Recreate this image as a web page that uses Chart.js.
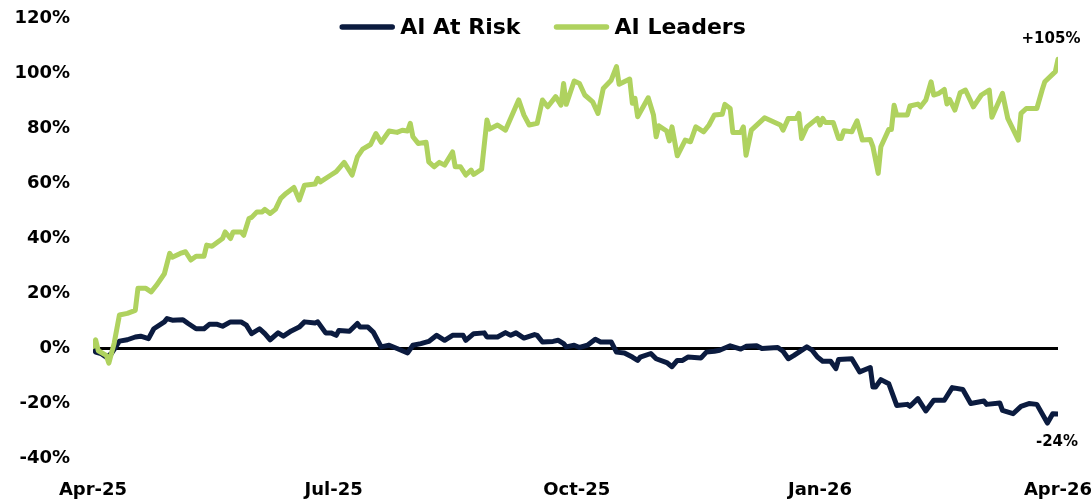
<!DOCTYPE html>
<html>
<head>
<meta charset="utf-8">
<title>AI Leaders vs AI At Risk</title>
<script src="https://cdn.jsdelivr.net/npm/chart.js@4"></script>
<style>
  html, body { margin: 0; padding: 0; background: #fff; overflow: hidden; }
  .chart-wrap { position: relative; width: 1091px; height: 500px; }
</style>
</head>
<body>
<div class="chart-wrap"><canvas id="chartAI"></canvas></div>
<script>
// ── Data ────────────────────────────────────────────────────────────────────────
// x = days since 1 Apr 2025, y = cumulative return in %.
const TICK_DAYS   = [0, 91, 183, 275, 365];
const TICK_LABELS = ['Apr-25', 'Jul-25', 'Oct-25', 'Jan-26', 'Apr-26'];

const SERIES_LABELS = ['AI At Risk', 'AI Leaders'];
const END_LABELS    = ['-24%', '+105%'];

const RISK_DAYS = [
  0, 1, 3, 5, 7, 10, 13, 16, 18, 21,
  23, 27, 28, 30, 34, 36, 39, 42, 44, 47,
  49, 52, 56, 58, 60, 63, 65, 67, 70, 72,
  75, 78, 80, 84, 85, 88, 90, 92, 93, 97,
  100, 101, 104, 106, 109, 112, 115, 119, 121, 124,
  127, 130, 133, 136, 140, 141, 144, 148, 149, 153,
  156, 158, 160, 163, 167, 168, 170, 174, 176, 178,
  179, 182, 184, 187, 190, 192, 196, 198, 201, 204,
  206, 207, 211, 213, 217, 219, 221, 223, 225, 230,
  232, 235, 237, 241, 245, 247, 251, 253, 259, 261,
  263, 265, 270, 272, 274, 276, 279, 281, 282, 287,
  290, 294, 295, 296, 298, 301, 304, 308, 309, 312,
  315, 318, 322, 325, 329, 332, 337, 338, 343, 344,
  348, 351, 354, 357, 361, 363, 365
];
const RISK_VALUES = [
  0.5, -1.5, -2, -3.3, -2, 2.5, 3, 4, 4.3, 3.4,
  7, 9.5, 10.7, 10.1, 10.3, 8.9, 7, 7, 8.6, 8.6,
  7.9, 9.5, 9.5, 8.3, 5.2, 7, 5.2, 3, 5.5, 4.3,
  6.2, 7.6, 9.5, 9.1, 9.5, 5.5, 5.5, 4.6, 6.4, 6.1,
  8.9, 7.6, 7.6, 5.8, 0.4, 1, -0.2, -1.8, 1, 1.6,
  2.4, 4.6, 2.8, 4.6, 4.6, 2.8, 5.2, 5.5, 4, 4,
  5.6, 4.6, 5.5, 3.6, 4.9, 4.6, 2.2, 2.4, 2.8, 1.6,
  0.4, 1, 0.2, 1, 3.2, 2.2, 2.2, -1.5, -1.8, -3.3,
  -4.5, -3.3, -2, -3.9, -5.3, -6.8, -4.5, -4.5, -3.3, -3.6,
  -1.5, -1.2, -0.8, 0.8, -0.4, 0.6, 0.8, -0.2, 0.2, -1.2,
  -3.9, -2.8, 0.4, -0.8, -3.3, -4.8, -4.8, -7.5, -4.2, -3.9,
  -8.7, -7.1, -14.2, -14.2, -11.5, -13, -20.9, -20.5, -21.2, -18.4,
  -22.9, -19, -19, -14.4, -15.1, -20.2, -19.3, -20.5, -20, -22.7,
  -23.9, -21.2, -20.2, -20.5, -27.3, -23.9, -24
];

const LEADERS_DAYS = [
  0, 1, 2, 5, 6, 8, 10, 13, 16, 17,
  20, 22, 24, 27, 29, 30, 33, 35, 37, 39,
  42, 43, 45, 49, 50, 52, 53, 56, 57, 59,
  60, 62, 64, 65, 67, 69, 71, 73, 76, 78,
  80, 84, 85, 86, 90, 92, 95, 98, 100, 102,
  105, 107, 109, 112, 115, 117, 119, 120, 121, 123,
  126, 127, 129, 131, 133, 136, 137, 139, 141, 143,
  144, 147, 149, 150, 153, 156, 161, 163, 165, 168,
  170, 172, 175, 177, 178, 179, 182, 184, 186, 189,
  191, 193, 196, 198, 199, 203, 204, 205, 206, 210,
  212, 213, 214, 217, 218, 219, 221, 224, 226, 228,
  231, 233, 235, 238, 239, 241, 242, 245, 246, 247,
  249, 254, 260, 261, 263, 266, 267, 268, 270, 274,
  275, 276, 277, 280, 282, 283, 284, 287, 289, 291,
  294, 295, 297, 298, 301, 302, 303, 304, 308, 309,
  312, 313, 315, 317, 318, 320, 322, 323, 324, 326,
  328, 330, 333, 336, 339, 340, 344, 346, 350, 351,
  353, 357, 359, 360, 364, 365
];
const LEADERS_VALUES = [
  0.5, 3, -1, -2.7, -5.5, 1.7, 12, 12.6, 13.7, 21.7,
  21.7, 20.4, 22.8, 27, 34.4, 33, 34.4, 35, 32, 33.4,
  33.4, 37.4, 37, 39.8, 42.2, 39.8, 42.2, 42.2, 41, 47.1,
  47.5, 49.5, 49.5, 50.4, 48.9, 50.4, 54.4, 56.2, 58.4, 53.8,
  59.2, 59.6, 61.7, 60.4, 62.9, 64.1, 67.5, 62.9, 69.5, 72.3,
  74, 78, 74.8, 78.9, 78.4, 79.2, 78.9, 81.7, 76.8, 74.4,
  74.8, 67.7, 65.9, 67.5, 66.5, 71.3, 65.9, 65.9, 62.9, 64.7,
  63.1, 65, 82.9, 79.6, 81.1, 79.2, 90.2, 84.7, 81.1, 81.7,
  90.2, 87.7, 91.4, 88.3, 96.2, 88.6, 97.1, 96.2, 92, 89.5,
  85.3, 94.4, 97.4, 102.3, 95.9, 97.8, 89, 90.8, 84.1, 91,
  84.7, 76.8, 80.8, 78.9, 75.3, 80.4, 69.9, 75.6, 75, 80.4,
  78.6, 81.1, 84.7, 85, 88.6, 87.1, 78.4, 78.4, 80.4, 70.1,
  79.2, 83.7, 81.1, 79.2, 83.5, 83.5, 85.3, 76.2, 80.4, 83.5,
  81.1, 83.5, 82, 82, 76.2, 76.2, 79, 78.6, 82.6, 75.6,
  75.8, 73.2, 63.5, 73.2, 79.5, 79.5, 88.3, 84.7, 84.7, 88,
  88.7, 87.7, 90.2, 96.8, 92, 92.6, 94, 88.7, 90.4, 86.5,
  92.8, 93.8, 87.7, 92, 93.8, 83.9, 92.6, 83.5, 75.6, 85.3,
  87.1, 87.1, 93.8, 96.8, 100.5, 105
];

const NAVY  = '#0b1b3f';
const GREEN = '#afd25f';
const FONT  = "'DejaVu Sans', sans-serif";

function toPoints(days, values) {
  return days.map((d, i) => ({ x: d, y: values[i] }));
}

// Legend sits inside the plot area (over the top gridline), so it is drawn by hand,
// together with the end-of-line value labels.
const overlayPlugin = {
  id: 'overlay',
  afterDraw(chart) {
    const ctx = chart.ctx;
    ctx.save();

    ctx.font = `bold 22px ${FONT}`;
    const sample = 56, gap = 5, spacing = 33, legendY = 27;
    const items = chart.data.datasets.map(ds => ({
      text: ds.label, color: ds.borderColor, w: ctx.measureText(ds.label).width
    }));
    const total = items.reduce((s, it) => s + sample + gap + it.w, 0) + spacing * (items.length - 1);
    let x = chart.width / 2 - total / 2 - 3;
    items.forEach(it => {
      ctx.strokeStyle = it.color;
      ctx.lineWidth = 5.5;
      ctx.lineCap = 'round';
      ctx.beginPath();
      ctx.moveTo(x + 3, legendY);
      ctx.lineTo(x + sample - 3, legendY);
      ctx.stroke();
      ctx.fillStyle = '#000';
      ctx.textAlign = 'left';
      ctx.textBaseline = 'middle';
      ctx.fillText(it.text, x + sample + gap, legendY + 1);
      x += sample + gap + it.w + spacing;
    });

    ctx.font = `bold 15px ${FONT}`;
    ctx.textAlign = 'center';
    chart.data.datasets.forEach((ds, i) => {
      const pts = chart.getDatasetMeta(i).data;
      const last = pts[pts.length - 1];
      const above = ds.data[ds.data.length - 1].y > 0;
      ctx.fillText(END_LABELS[i], last.x + (above ? -7 : -1), last.y + (above ? -20 : 28));
    });

    ctx.restore();
  }
};

new Chart(document.getElementById('chartAI'), {
  type: 'line',
  data: {
    datasets: [
      {
        label: SERIES_LABELS[0],
        data: toPoints(RISK_DAYS, RISK_VALUES),
        borderColor: NAVY,
        borderWidth: 5,
        order: 1
      },
      {
        label: SERIES_LABELS[1],
        data: toPoints(LEADERS_DAYS, LEADERS_VALUES),
        borderColor: GREEN,
        borderWidth: 5,
        order: 0
      }
    ]
  },
  options: {
    responsive: true,
    maintainAspectRatio: false,
    animation: false,
    datasets: { line: { pointRadius: 0, tension: 0, borderJoinStyle: 'round', borderCapStyle: 'round' } },
    layout: { padding: { top: 18, right: 33, bottom: 0, left: 0 } },
    plugins: { legend: { display: false }, tooltip: { enabled: false } },
    scales: {
      x: {
        type: 'linear',
        min: 0,
        max: 365,
        afterBuildTicks: s => { s.ticks = TICK_DAYS.map(v => ({ value: v })); },
        afterFit: s => { s.height = 42; s.paddingLeft = 0; s.paddingRight = 0; },
        grid: { display: false },
        border: { display: false },
        ticks: {
          padding: 14,
          color: '#000',
          maxRotation: 0,
          autoSkip: false,
          font: { family: FONT, size: 18, weight: 'bold' },
          callback: v => TICK_LABELS[TICK_DAYS.indexOf(v)] ?? ''
        }
      },
      y: {
        min: -40,
        max: 120,
        afterFit: s => { s.width = 93; s.paddingTop = 0; s.paddingBottom = 0; },
        border: { display: false },
        grid: {
          drawTicks: false,
          color: c => c.tick.value === 0 ? '#000' : 'rgba(0,0,0,0)',
          lineWidth: c => c.tick.value === 0 ? 3 : 0
        },
        ticks: {
          stepSize: 20,
          padding: 23,
          color: '#000',
          font: { family: FONT, size: 18, weight: 'bold' },
          callback: v => v + '%'
        }
      }
    }
  },
  plugins: [overlayPlugin]
});
</script>
</body>
</html>
